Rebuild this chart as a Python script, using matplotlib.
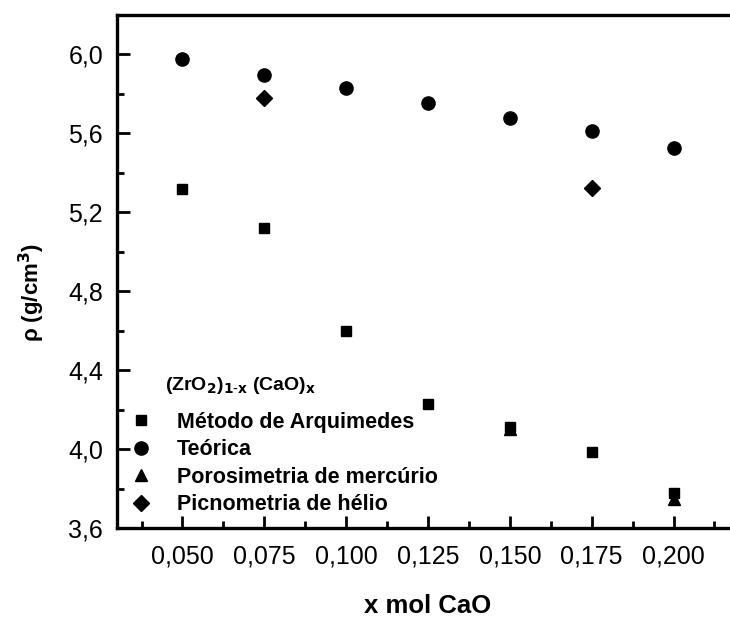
import matplotlib
matplotlib.use('Agg')
import matplotlib.pyplot as plt
from matplotlib.lines import Line2D
from matplotlib.ticker import MultipleLocator

plt.rcParams['font.family'] = ['Liberation Sans', 'DejaVu Sans']

# densidade x fração molar de CaO
x_arq = [0.050, 0.075, 0.100, 0.125, 0.150, 0.175, 0.200]
rho_arq = [5.32, 5.12, 4.60, 4.23, 4.11, 3.985, 3.775]

x_teo = [0.050, 0.075, 0.100, 0.125, 0.150, 0.175, 0.200]
rho_teo = [5.975, 5.898, 5.832, 5.756, 5.68, 5.614, 5.528]

x_por = [0.150, 0.200]
rho_por = [4.10, 3.745]

x_pic = [0.075, 0.175]
rho_pic = [5.78, 5.325]

xticks = [0.050, 0.075, 0.100, 0.125, 0.150, 0.175, 0.200]
xlabels = ['0,050', '0,075', '0,100', '0,125', '0,150', '0,175', '0,200']
yticks = [3.6, 4.0, 4.4, 4.8, 5.2, 5.6, 6.0]
ylabels = ['3,6', '4,0', '4,4', '4,8', '5,2', '5,6', '6,0']

fig = plt.figure(figsize=(7.3, 6.17), dpi=100)
# eixo passa um pouco da borda direita
ax = fig.add_axes([117 / 730, 1 - 528 / 617, 622 / 730, (528 - 15) / 617])

ax.plot(x_arq, rho_arq, 's', color='black', ms=7)
ax.plot(x_teo, rho_teo, 'o', color='black', ms=9.5)
ax.plot(x_por, rho_por, '^', color='black', ms=9)
ax.plot(x_pic, rho_pic, 'D', color='black', ms=8.5)

ax.set_xlim(0.030, 0.220)
ax.set_ylim(3.6, 6.2)
ax.set_xticks(xticks)
ax.set_xticklabels(xlabels)
ax.set_yticks(yticks)
ax.set_yticklabels(ylabels)
ax.xaxis.set_minor_locator(MultipleLocator(0.0125))
ax.yaxis.set_minor_locator(MultipleLocator(0.2))
ax.tick_params(which='both', direction='in', width=2, labelsize=18)
ax.tick_params(which='major', length=9)
ax.tick_params(which='minor', length=5)
ax.tick_params(axis='x', pad=12)
ax.tick_params(axis='y', pad=10)
for s in ax.spines.values():
    s.set_linewidth(2.4)

ax.set_xlabel('x mol CaO', fontsize=18.5, fontweight='bold', labelpad=18)
ax.set_ylabel('ρ (g/cm$^\\mathbf{3}$)', fontsize=16, fontweight='bold')
ax.yaxis.set_label_coords(-0.112, 0.46)

ax.text(165 / 730, 1 - 386 / 617, r'(ZrO$_\mathbf{2}$)$_\mathbf{1\text{-}x}$ (CaO)$_\mathbf{x}$',
        transform=fig.transFigure, fontsize=14, fontweight='bold', va='center')

handles = [
    Line2D([], [], ls='none', marker='s', color='black', ms=7),
    Line2D([], [], ls='none', marker='o', color='black', ms=9.5),
    Line2D([], [], ls='none', marker='^', color='black', ms=9),
    Line2D([], [], ls='none', marker='D', color='black', ms=8.5),
]
names = ['Método de Arquimedes', 'Teórica', 'Porosimetria de mercúrio', 'Picnometria de hélio']
fig.legend(handles, names, loc='upper left', bbox_to_anchor=(119 / 730, 1 - 401 / 617),
           frameon=False, prop={'weight': 'bold', 'size': 15.5},
           handlelength=1.0, handletextpad=1.2, labelspacing=0.3, borderpad=0)

fig.savefig('out.png', dpi=100)
